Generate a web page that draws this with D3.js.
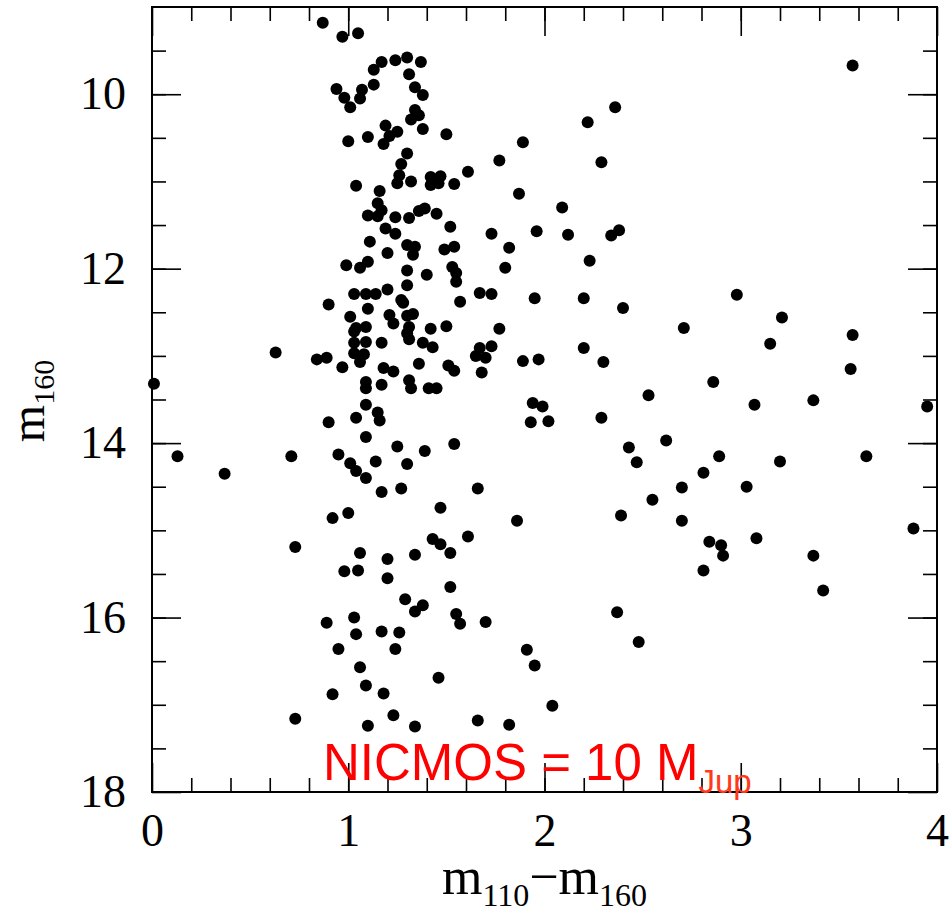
<!DOCTYPE html>
<html>
<head>
<meta charset="utf-8">
<script src="https://cdn.jsdelivr.net/npm/d3@7"></script>
<style>
  body { margin: 0; background: #fff; }
  .axis text { font-family: "Liberation Serif", "DejaVu Serif", serif; fill: #000; }
  .axis line { stroke: #000; stroke-width: 1.6px; }
  .title { font-family: "Liberation Serif", "DejaVu Serif", serif; fill: #000; }
  .note { font-family: "Liberation Sans", Arial, sans-serif; }
</style>
</head>
<body>
<svg width="952" height="915"></svg>
<script>
// colour index m110 - m160 of each source
var colour = [
  0.87, 0.97, 1.05, 1.17, 1.24, 1.30, 1.37, 1.13, 1.31, 1.13,
  1.07, 0.94, 0.98, 1.06, 1.01, 1.34, 1.38, 1.34, 1.36, 1.32,
  1.19, 1.25, 1.21, 1.38, 1.50, 1.00, 1.10, 1.18, 1.30, 1.27,
  1.26, 1.25, 1.32, 1.42, 1.47, 1.42, 1.46, 1.54, 1.61, 1.04,
  1.16,
  1.15, 1.10, 1.15, 1.17, 1.24, 1.31, 1.36, 1.39, 1.45, 1.52,
  1.19, 1.24, 1.11, 1.30, 1.34, 1.33, 1.49, 1.54, 1.20, 0.99,
  1.06, 1.10, 1.30, 1.40, 1.53, 1.55, 1.55, 1.30, 1.03, 1.09,
  1.14, 1.20, 0.90, 1.27, 1.28, 1.57, 1.10, 1.01, 1.21, 1.30,
  1.33, 1.23, 1.04, 1.09, 1.03, 1.31, 1.30, 1.42, 1.50, 1.31,
  1.03, 1.09, 1.17, 1.38, 1.43, 1.03, 1.08, 0.84, 0.89, 1.06,
  0.97, 1.36, 1.51, 1.54, 1.18, 1.23, 1.09, 1.17, 1.09, 1.31,
  1.32, 1.41, 1.45,
  0.90, 1.04, 1.09, 1.15, 1.16, 1.09, 1.25, 1.39, 1.54, 0.13,
  0.71, 0.37, 0.95, 1.01, 1.04, 1.09, 1.14, 1.30, 1.17, 1.27,
  1.66, 1.47, 0.92, 1.00, 0.73, 1.06, 1.20, 1.34, 1.43, 1.47,
  1.52, 1.61, 0.98, 1.05, 1.20, 1.52, 0.63, 0.01,
  1.29, 1.38, 1.34, 1.55, 1.57, 1.70, 0.89, 1.03, 1.04, 1.17,
  1.26, 0.95, 1.24, 1.06, 1.46, 1.09, 1.18, 0.92, 0.73, 1.23,
  1.10, 1.34, 1.66,
  3.57, 2.36, 2.22, 1.89, 1.77, 2.29, 1.87, 2.09, 1.73, 1.96,
  2.12, 2.34, 2.38, 1.82, 1.80, 2.23, 1.67, 1.73, 1.95, 2.20,
  2.98, 2.40, 2.71, 1.77, 3.21, 3.15, 3.57, 3.56, 1.67, 1.73,
  1.65, 1.70, 1.68, 1.89, 1.97, 2.20, 2.30, 2.86, 2.53, 3.07,
  3.37, 3.95, 1.94, 1.99, 1.93, 2.02, 2.29, 2.62, 2.43, 2.47,
  2.89, 3.20, 3.64, 2.81, 2.70, 3.03, 2.55, 1.86, 2.39, 2.70,
  2.84, 2.90, 2.91, 3.08, 3.37, 3.88, 2.81, 3.42, 2.37, 2.48,
  1.91, 1.95, 2.04, 1.82
];

// m160 magnitude, same order as colour
var m160 = [
  9.18, 9.34, 9.30, 9.63, 9.61, 9.58, 9.63, 9.72, 9.77, 9.89,
  9.95, 9.94, 10.04, 10.05, 10.15, 9.92, 10.01, 10.18, 10.24, 10.29,
  10.36, 10.43, 10.48, 10.40, 10.46, 10.54, 10.49, 10.57, 10.68, 10.80,
  10.93, 11.02, 11.00, 10.95, 10.94, 11.04, 11.02, 11.03, 10.89, 11.05,
  11.11,
  11.25, 11.39, 11.40, 11.33, 11.41, 11.42, 11.34, 11.31, 11.37, 11.52,
  11.54, 11.60, 11.69, 11.73, 11.75, 11.84, 11.78, 11.75, 11.82, 11.96,
  11.99, 11.92, 12.02, 12.07, 11.98, 12.05, 12.15, 12.19, 12.29, 12.29,
  12.29, 12.24, 12.41, 12.36, 12.39, 12.38, 12.46, 12.55, 12.53, 12.54,
  12.52, 12.63, 12.68, 12.67, 12.72, 12.67, 12.74, 12.69, 12.66, 12.81,
  12.85, 12.84, 12.85, 12.85, 12.90, 12.97, 12.98, 13.04, 13.02, 13.07,
  13.13, 13.09, 13.11, 13.17, 13.14, 13.18, 13.30, 13.33, 13.37, 13.28,
  13.37, 13.37, 13.37,
  13.76, 13.71, 13.56, 13.65, 13.74, 13.93, 14.04, 14.09, 14.01, 14.15,
  14.15, 14.35, 14.13, 14.23, 14.32, 14.40, 14.21, 14.24, 14.56, 14.52,
  14.52, 14.74, 14.86, 14.80, 15.19, 15.26, 15.33, 15.28, 15.10, 15.16,
  15.26, 15.07, 15.47, 15.46, 15.55, 15.65, 12.96, 13.32,
  15.79, 15.86, 15.93, 15.96, 16.07, 16.05, 16.06, 16.00, 16.19, 16.16,
  16.17, 16.36, 16.36, 16.57, 16.69, 16.78, 16.87, 16.88, 17.16, 17.12,
  17.24, 17.25, 17.18,
  9.67, 10.15, 10.32, 10.55, 10.76, 10.78, 11.14, 11.30, 11.60, 11.57,
  11.61, 11.62, 11.56, 11.76, 11.99, 11.91, 12.28, 12.29, 12.34, 12.34,
  12.30, 12.45, 12.68, 12.69, 12.56, 12.86, 12.76, 13.15, 12.91, 12.89,
  13.00, 13.02, 13.19, 13.06, 13.04, 12.91, 13.07, 13.30, 13.45, 13.56,
  13.51, 13.58, 13.54, 13.58, 13.76, 13.75, 13.71, 13.97, 14.05, 14.22,
  14.15, 14.21, 14.15, 14.34, 14.51, 14.50, 14.65, 14.89, 14.83, 14.89,
  15.13, 15.17, 15.29, 15.09, 15.29, 14.98, 15.46, 15.69, 15.94, 16.28,
  16.37, 16.55, 17.01, 17.23
];

var xTicks = [0, 1, 2, 3, 4];
var yTicks = [10, 12, 14, 16, 18];
var xMinor = d3.range(0.2, 4, 0.2);
var yMinor = d3.range(9.5, 18, 0.5);

var svg = d3.select('svg'),
    margin = {top: 7, right: 15, bottom: 123, left: 152},
    width  = +svg.attr('width') - margin.left - margin.right,
    height = +svg.attr('height') - margin.top - margin.bottom,
    x = d3.scaleLinear().domain([0, 4]).range([0, width]),
    y = d3.scaleLinear().domain([9, 18]).range([0, height]),
    g = svg.append('g')
      .attr('transform', 'translate(' + margin.left + ',' + margin.top + ')');

var majorLen = -29, minorLen = -14;

// ticks on all four sides, pointing inwards
function addAxis(axis, cls, tr) {
  var a = g.append('g').attr('class', 'axis ' + cls)
    .attr('transform', tr)
    .call(axis);
  a.attr('font-family', null).attr('font-size', null);
  a.select('.domain').remove();
  return a;
}

addAxis(d3.axisBottom(x).tickValues(xTicks).tickSize(majorLen).tickPadding(21)
  .tickFormat(d3.format('d')), 'x-major', 'translate(0,' + height + ')')
  .selectAll('text').style('font-size', '46px');
addAxis(d3.axisBottom(x).tickValues(xMinor).tickSize(minorLen).tickFormat(''),
  'x-minor', 'translate(0,' + height + ')');
addAxis(d3.axisTop(x).tickValues(xTicks).tickSize(majorLen).tickFormat(''), 'x-top', null);
addAxis(d3.axisTop(x).tickValues(xMinor).tickSize(minorLen).tickFormat(''), 'x-top-minor', null);

addAxis(d3.axisLeft(y).tickValues(yTicks).tickSize(majorLen).tickPadding(26)
  .tickFormat(d3.format('d')), 'y-major', null)
  .selectAll('text').style('font-size', '46px');
addAxis(d3.axisLeft(y).tickValues(yMinor).tickSize(minorLen).tickFormat(''), 'y-minor', null);
addAxis(d3.axisRight(y).tickValues(yTicks).tickSize(majorLen).tickFormat(''),
  'y-right', 'translate(' + width + ',0)');
addAxis(d3.axisRight(y).tickValues(yMinor).tickSize(minorLen).tickFormat(''),
  'y-right-minor', 'translate(' + width + ',0)');

// frame
g.append('rect')
  .attr('width', width).attr('height', height)
  .attr('fill', 'none').attr('stroke', '#000').attr('stroke-width', 2);

// sources
g.selectAll('.dot')
  .data(d3.range(colour.length))
  .enter().append('circle')
    .attr('class', 'dot')
    .attr('cx', function(i) { return x(colour[i]); })
    .attr('cy', function(i) { return y(m160[i]); })
    .attr('r', 6)
    .attr('fill', '#000');

// axis titles
var xt = svg.append('text').attr('class', 'title')
  .attr('x', margin.left + width / 2).attr('y', 894)
  .attr('text-anchor', 'middle').style('font-size', '52px');
xt.append('tspan').text('m');
xt.append('tspan').attr('dy', 12).style('font-size', '32px').text('110');
xt.append('tspan').attr('dy', -12).text('\u2212m');
xt.append('tspan').attr('dy', 12).style('font-size', '32px').text('160');

var yt = svg.append('text').attr('class', 'title')
  .attr('transform', 'translate(44,401) rotate(-90)')
  .attr('text-anchor', 'middle').style('font-size', '48px');
yt.append('tspan').text('m');
yt.append('tspan').attr('dy', 10).style('font-size', '30px').text('160');

// red annotation
var note = svg.append('text').attr('class', 'note')
  .attr('x', 323).attr('y', 780).style('font-size', '51px').attr('fill', '#ff0000');
note.append('tspan').text('NICMOS = 10 M');
note.append('tspan').attr('dy', 13).attr('fill', '#ff3a1c').style('font-size', '33px').text('Jup');
</script>
</body>
</html>
